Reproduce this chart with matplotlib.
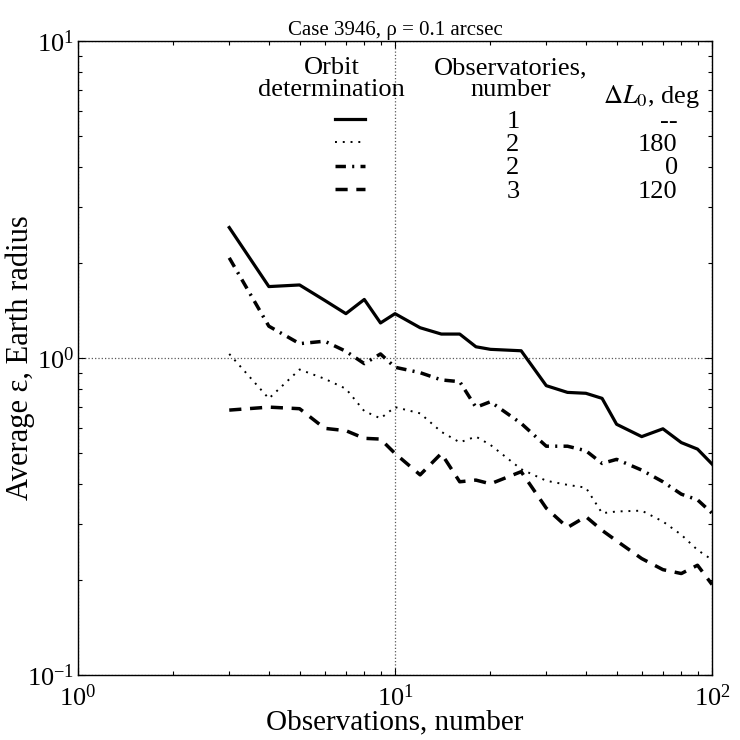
import numpy as np
import matplotlib
matplotlib.use('Agg')
import matplotlib.pyplot as plt

plt.rcParams['font.family'] = ['Liberation Serif', 'DejaVu Serif']
plt.rcParams['mathtext.fontset'] = 'stix'

# Observations, number
n_obs = [3, 4, 5, 6, 7, 8, 9, 10, 12, 14, 16, 18, 20, 25, 30, 35, 40, 45, 50, 60, 70, 80, 90, 100]

# Average epsilon, Earth radius
eps_1obs = [2.58, 1.68, 1.70, 1.52, 1.38, 1.53, 1.29, 1.38, 1.246, 1.19, 1.19, 1.085,
            1.065, 1.054, 0.818, 0.779, 0.774, 0.746, 0.618, 0.565, 0.598, 0.541, 0.516, 0.463]
eps_2obs_180 = [1.03, 0.745, 0.92, 0.86, 0.80, 0.68, 0.645, 0.70, 0.669, 0.585, 0.542, 0.565,
                0.532, 0.446, 0.41, 0.398, 0.39, 0.324, 0.328, 0.33, 0.305, 0.277, 0.248, 0.231]
eps_2obs_0 = [2.07, 1.26, 1.11, 1.13, 1.05, 0.96, 1.03, 0.935, 0.899, 0.853, 0.842, 0.699,
              0.728, 0.622, 0.527, 0.527, 0.51, 0.465, 0.479, 0.443, 0.407, 0.372, 0.357, 0.324]
eps_3obs_120 = [0.685, 0.700, 0.692, 0.600, 0.59, 0.558, 0.555, 0.50, 0.428, 0.50, 0.407, 0.412,
                0.401, 0.438, 0.336, 0.292, 0.316, 0.286, 0.265, 0.233, 0.215, 0.209, 0.222, 0.193]

n_observatories = ['1', '2', '2', '3']
delta_L0 = ['--', '180', '0', '120']

styles = [dict(ls='-', lw=2.3),
          dict(ls=(0, (1.0, 3.0)), lw=1.4),
          dict(ls=(0, (3.0, 1.8, 0.6, 1.8)), lw=2.5),
          dict(ls=(0, (3.5, 2.5)), lw=2.5)]
series = [eps_1obs, eps_2obs_180, eps_2obs_0, eps_3obs_120]

fig = plt.figure(figsize=(7.4, 7.4), dpi=100)
ax = fig.add_axes([0.1054, 0.0878, 0.8568, 0.8568])

for y, st in zip(series, styles):
    ax.plot(n_obs, y, color='k', **st)

ax.set_xscale('log')
ax.set_yscale('log')
ax.set_xlim(1, 100)
ax.set_ylim(0.1, 10)
ax.grid(True, which='major', linestyle=':', color='0.35', linewidth=0.9)
ax.tick_params(which='both', direction='in', top=True, right=True, labelsize=19)
ax.tick_params(which='major', length=5, width=0.8)
ax.tick_params(which='minor', length=3, width=0.8)
ax.tick_params(axis='x', pad=7)
ax.tick_params(axis='y', pad=3)
for s in ax.spines.values():
    s.set_linewidth(1.0)

ax.set_xlabel('Observations, number', fontsize=21, labelpad=-1)
ax.set_ylabel('Average ε, Earth radius', fontsize=22, labelpad=-6)
ax.set_title('Case 3946, ρ = 0.1 arcsec', fontsize=15, pad=4)

# legend table
fs = 19
ax.text(0.40, 0.940, 'Orbit\ndetermination', transform=ax.transAxes, ha='center',
        va='center', fontsize=fs, linespacing=0.98)
ax.text(0.683, 0.940, 'Observatories,\nnumber', transform=ax.transAxes, ha='center',
        va='center', fontsize=fs, linespacing=0.98)
ax.text(0.904, 0.912, r'$\Delta L_0$, deg', transform=ax.transAxes, ha='center',
        va='center', fontsize=fs)
row_y = [0.877, 0.840, 0.803, 0.766]
for ry, st, nob, dl in zip(row_y, styles, n_observatories, delta_L0):
    ax.plot([0.405, 0.453], [ry, ry], color='k', transform=ax.transAxes, **st)
    ax.text(0.686, ry - 0.004, nob, transform=ax.transAxes, ha='center', va='center', fontsize=fs)
    ax.text(0.946, ry - 0.004, dl, transform=ax.transAxes, ha='right', va='center', fontsize=fs)

fig.savefig('out.png', dpi=100)
